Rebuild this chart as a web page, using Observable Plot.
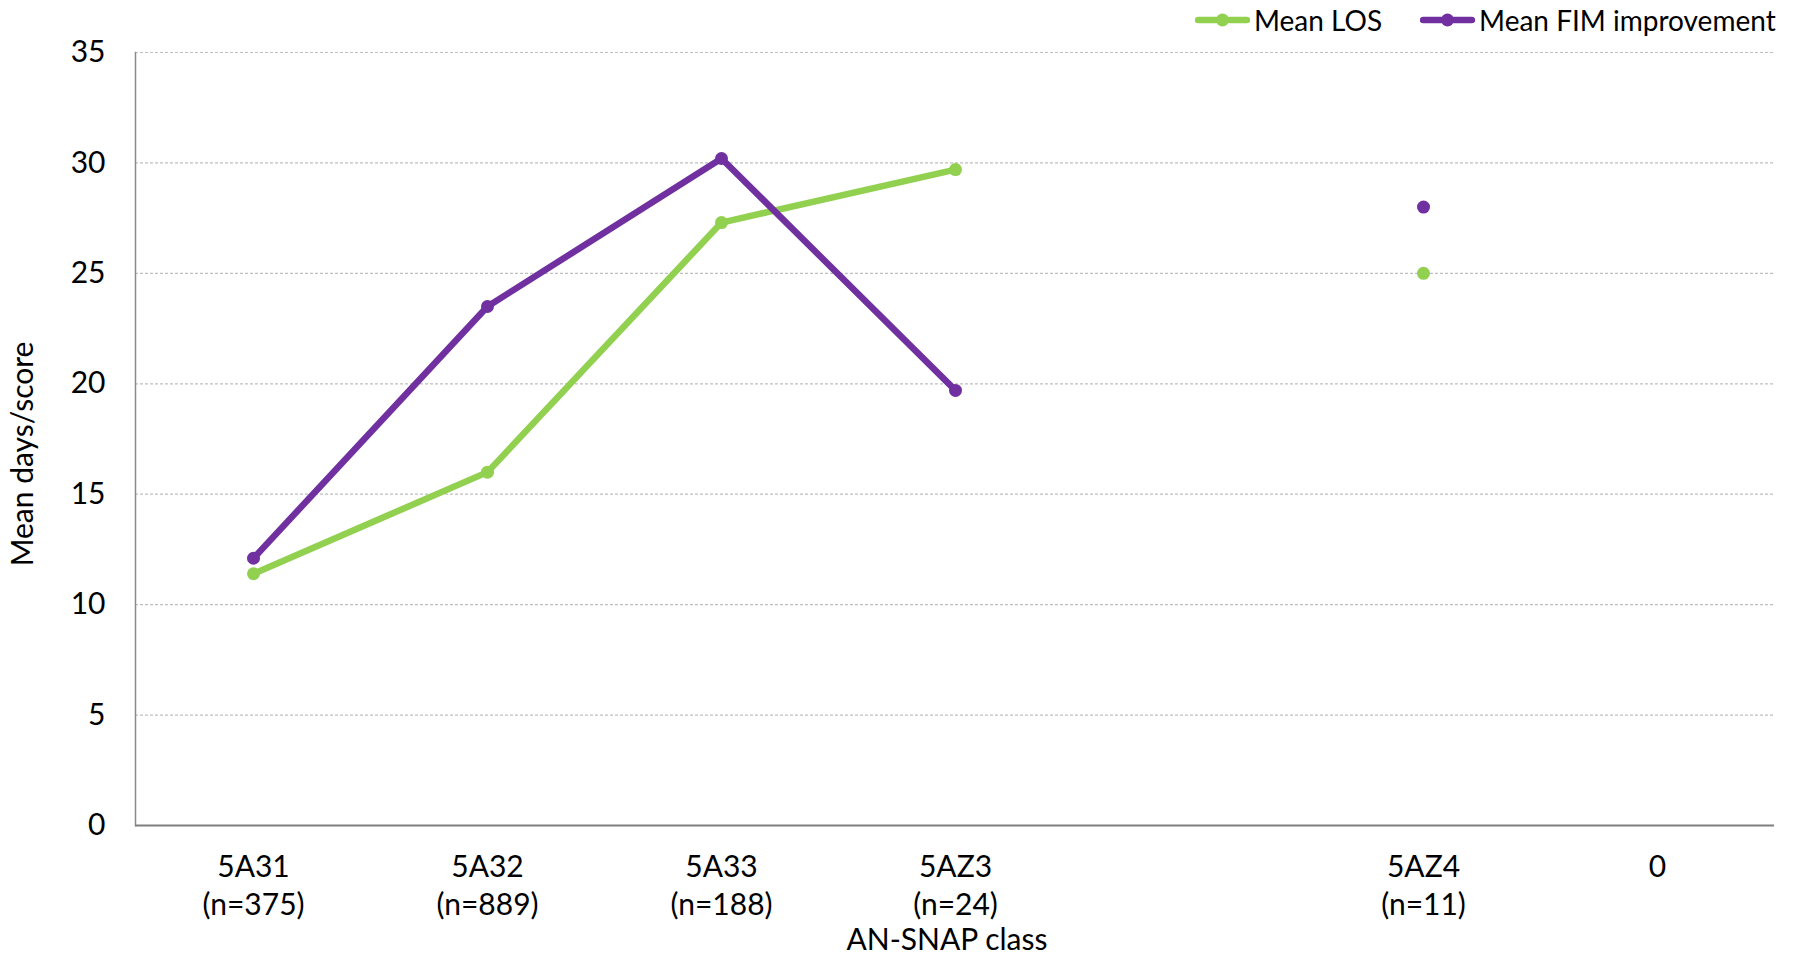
<!DOCTYPE html>
<html><head><meta charset="utf-8">
<script src="https://cdn.jsdelivr.net/npm/d3@7"></script>
<script src="https://cdn.jsdelivr.net/npm/@observablehq/plot@0.6"></script>
<style>
body{margin:0;background:#fff;font-family:Lato,"Open Sans",sans-serif;}
#wrap{position:relative;width:1798px;height:956px;}
#legend{position:absolute;top:0px;left:1195px;display:flex;align-items:center;height:40px;font-size:28px;color:#000;white-space:nowrap;}
.item{display:flex;align-items:center;margin-right:38px;}
.item svg{margin-right:4px;}
</style>
</head><body>
<div id="wrap"><div id="legend"></div></div>
<script>
const categories = ["5A31","5A32","5A33","5AZ3","","5AZ4","0"];
const counts = ["(n=375)","(n=889)","(n=188)","(n=24)","","(n=11)",""];
const meanLOS = [11.4,16.0,27.3,29.7,null,25.0,null];
const meanFIM = [12.1,23.5,30.2,19.7,null,28.0,null];
const yTicks = [0,5,10,15,20,25,30,35];
const seriesNames = ["Mean LOS","Mean FIM improvement"];
const seriesColors = ["#92d050","#7030a0"];

const rows = categories.map((c,i)=>({cat:c, los:meanLOS[i], fim:meanFIM[i]}));
const font = "Lato, 'Open Sans', sans-serif";

const chart = Plot.plot({
  width:1798, height:956,
  marginLeft:135, marginRight:24, marginTop:52, marginBottom:131,
  style:{fontFamily:font, fontSize:"30px", color:"#000", background:"#fff"},
  x:{type:"point", domain:categories, padding:0.5},
  y:{domain:[0,35]},
  marks:[
    Plot.gridY(yTicks.filter(d=>d>0), {stroke:"#bfbfbf", strokeOpacity:1, strokeDasharray:"3,2", strokeWidth:1.2}),
    Plot.axisY(yTicks, {tickSize:0, tickPadding:30, label:null, fontSize:30}),
    Plot.axisX({tickSize:0, tickPadding:25, label:null, fontSize:30, lineHeight:1.25,
      tickFormat:d=>{const i=categories.indexOf(d); return counts[i] ? d+"\n"+counts[i] : d;}}),
    Plot.frame({anchor:"left", stroke:"#8a8a8a", strokeWidth:1.5}),
    Plot.ruleY([0], {stroke:"#7f7f7f", strokeWidth:2}),
    Plot.line(rows, {x:"cat", y:"los", stroke:seriesColors[0], strokeWidth:6.5}),
    Plot.dot(rows.filter(d=>d.los!=null), {x:"cat", y:"los", r:6.5, fill:seriesColors[0]}),
    Plot.line(rows, {x:"cat", y:"fim", stroke:seriesColors[1], strokeWidth:6.5}),
    Plot.dot(rows.filter(d=>d.fim!=null), {x:"cat", y:"fim", r:6.5, fill:seriesColors[1]}),
    Plot.text(["Mean days/score"], {text:d=>d, frameAnchor:"left", dx:-112, dy:15, rotate:-90, textAnchor:"middle", lineAnchor:"middle", fontSize:30}),
    Plot.text(["AN-SNAP class"], {text:d=>d, frameAnchor:"bottom", dx:-8, dy:115, textAnchor:"middle", lineAnchor:"middle", fontSize:30})
  ]
});
document.getElementById("wrap").prepend(chart);

const legend = document.getElementById("legend");
seriesNames.forEach((name,i)=>{
  const item = document.createElement("div");
  item.className = "item";
  item.innerHTML = `<svg width="55" height="16"><line x1="3" y1="8" x2="52" y2="8" stroke="${seriesColors[i]}" stroke-width="6.5" stroke-linecap="round"/><circle cx="27.5" cy="8" r="6.5" fill="${seriesColors[i]}"/></svg><span>${name}</span>`;
  legend.appendChild(item);
});
</script>
</body></html>
